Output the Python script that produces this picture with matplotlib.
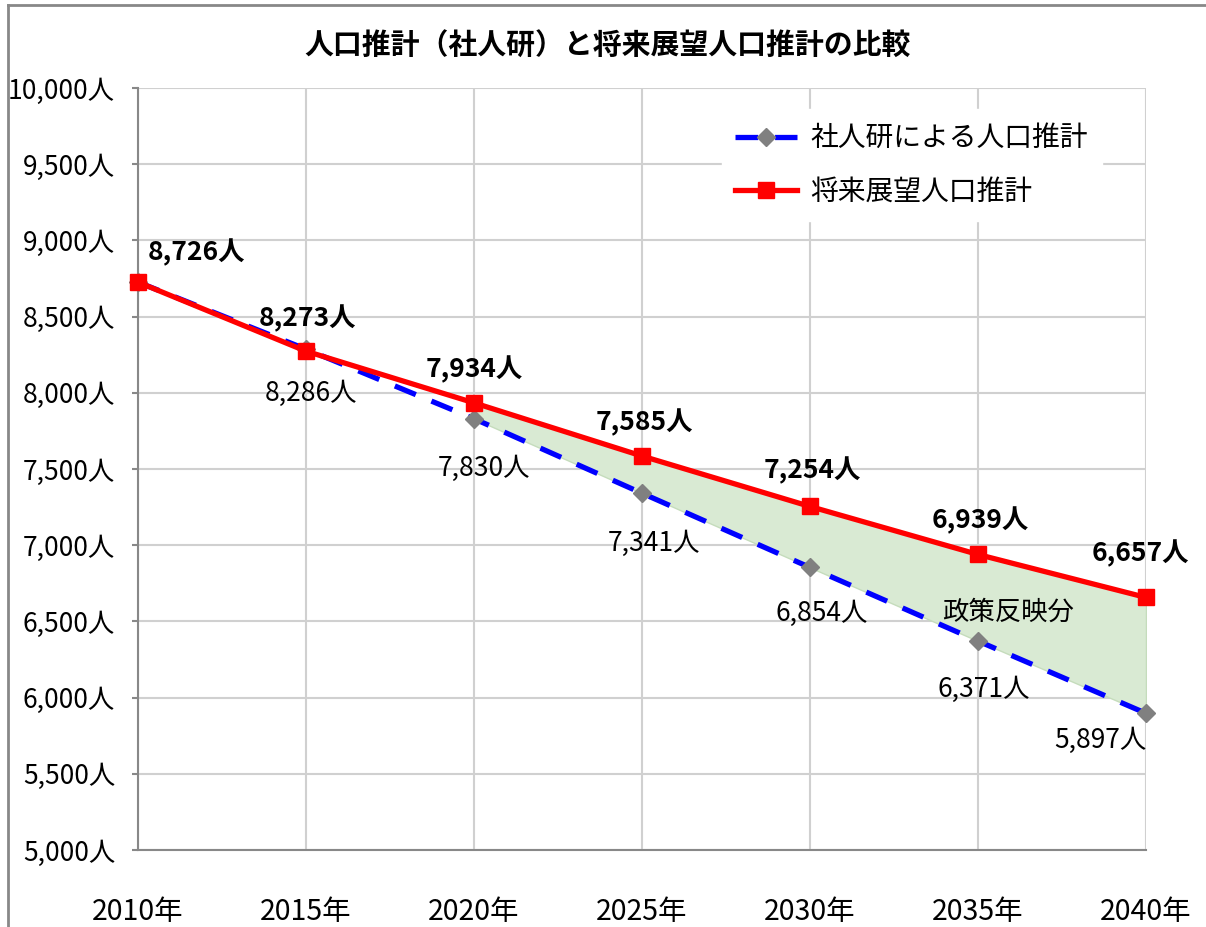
import matplotlib
matplotlib.use('Agg')
from matplotlib import pyplot as plt
from matplotlib.lines import Line2D
import numpy as np

plt.rcParams['font.family'] = ['Noto Sans CJK JP', 'DejaVu Sans']

years = ['2010年', '2015年', '2020年', '2025年', '2030年', '2035年', '2040年']
ipss = [8726, 8286, 7830, 7341, 6854, 6371, 5897]      # 社人研による人口推計
vision = [8726, 8273, 7934, 7585, 7254, 6939, 6657]    # 将来展望人口推計
yticks = np.arange(5000, 10001, 500)

x = np.arange(len(years))

fig = plt.figure(figsize=(12.06, 9.27), dpi=100)
ax = fig.add_axes([0.1144, 0.0831, 0.8358, 0.822])

# shaded gap (policy effect)
ax.fill_between(x[2:], ipss[2:], vision[2:], color='#d9ead3', edgecolor='#c5dcbc',
                linewidth=1, zorder=1)

ax.plot(x, ipss, color='#0000ff', linestyle=(0, (4.3, 3.2)), linewidth=3.8,
        marker='D', markersize=9, markerfacecolor='#808080', markeredgecolor='#808080',
        label='社人研による人口推計', zorder=3, clip_on=False)
ax.plot(x, vision, color='#ff0000', linewidth=3.8,
        marker='s', markersize=12, markerfacecolor='#ff0000', markeredgecolor='#ff0000',
        label='将来展望人口推計', zorder=4, clip_on=False)

# labels for the vision series (above)
red_off = [(59, 30), (2, 33), (0, 33), (2, 33), (2, 36), (2, 34), (-6, 44)]
for i, v in enumerate(vision):
    ax.annotate(f'{v:,}人', (x[i], v), xytext=red_off[i], textcoords='offset pixels',
                ha='center', va='center', fontsize=19, fontweight='bold', zorder=6)

# labels for the ipss series (below), skip 2010
blue_off = [(0, 0), (5, -44), (10, -50), (12, -50), (12, -46), (6, -48), (-46, -27)]
for i, v in enumerate(ipss):
    if i == 0:
        continue
    ax.annotate(f'{v:,}人', (x[i], v), xytext=blue_off[i], textcoords='offset pixels',
                ha='center', va='center', fontsize=19, zorder=6)

ax.text(5.18, 6560, '政策反映分', ha='center', va='center', fontsize=19, zorder=5)

ax.set_xlim(0, 6)
ax.set_ylim(5000, 10000)
ax.set_xticks(x)
ax.set_xticklabels(years)
ax.set_yticks(yticks)
ax.set_yticklabels([f'{v:,}人' for v in yticks])
ax.tick_params(axis='x', length=0, pad=34, labelsize=20.5)
ax.tick_params(axis='y', length=4.5, width=1.5, color='#888888', pad=12, labelsize=19)

ax.grid(True, color='#d0d0d0', linewidth=1.5, zorder=0)
ax.set_axisbelow(True)
for s in ['top', 'right']:
    ax.spines[s].set_visible(False)
for s in ['left', 'bottom']:
    ax.spines[s].set_color('#888888')
    ax.spines[s].set_linewidth(1.5)

leg = ax.legend(loc='upper right', bbox_to_anchor=(0.97, 0.99), frameon=True,
                fontsize=20, handlelength=2.2, handletextpad=0.5, labelspacing=0.85,
                borderpad=0.5)
leg.get_frame().set_edgecolor('white')
leg.get_frame().set_facecolor('white')
leg.get_frame().set_alpha(1)

fig.text(0.504, 0.951, '人口推計（社人研）と将来展望人口推計の比較', ha='center', va='center',
         fontsize=20.8, fontweight='bold')

# outer chart border
fig.add_artist(Line2D([8 / 1206, 1], [1 - 5 / 927, 1 - 5 / 927], color='#888888', linewidth=2,
                      transform=fig.transFigure))
fig.add_artist(Line2D([8 / 1206, 8 / 1206], [0, 1 - 5 / 927], color='#888888', linewidth=2,
                      transform=fig.transFigure))

fig.savefig('out.png', dpi=100)
